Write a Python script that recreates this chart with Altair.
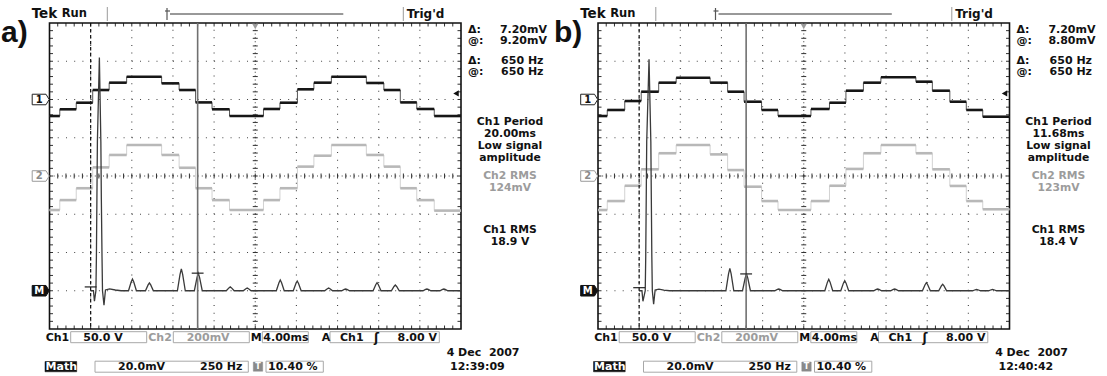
import altair as alt
import numpy as np
import pandas as pd

# ---------------------------------------------------------------
# Values
# ---------------------------------------------------------------
# staircase segment boundaries (ms, 4 ms/div, 0 = trigger point)
seg_t_a = [-20.0, -19.0, -17.4, -15.8, -14.2, -12.5, -9.1, -7.4, -5.8, -4.2, -2.5,
           0.8, 2.4, 4.1, 5.7, 7.4, 10.8, 12.5, 14.1, 15.7, 17.4, 20.0]
ch1_a = [-21.6, -12.8, -4.2, 12.4, 22.0, 29.8, 21.1, 12.4, -3.8, -12.8, -21.6,
         -12.4, -4.2, 13.3, 22.0, 29.8, 21.6, 12.4, -3.8, -12.4, -21.6]        # V
ch2_a = [-178, -126, -64, 45, 110, 162, 110, 43, -64, -126, -178,
         -126, -64, 49, 106, 162, 110, 49, -64, -126, -181]                     # mV

seg_t_b = [-20.0, -19.1, -17.4, -15.8, -14.1, -12.4, -9.1, -7.4, -5.8, -4.1, -2.5,
           0.7, 2.5, 4.1, 5.8, 7.5, 10.9, 12.5, 14.2, 15.8, 17.4, 20.0]
ch1_b = [-21.6, -13.7, -2.0, 10.2, 22.0, 28.5, 22.0, 10.2, -2.9, -13.7, -21.6,
         -12.4, -4.2, 11.5, 22.0, 29.0, 23.3, 11.5, -2.9, -13.7, -22.5]
ch2_b = [-178, -131, -51, 35, 119, 162, 113, 31, -56, -131, -178,
         -131, -51, 37, 119, 162, 119, 35, -52, -131, -174]

# Math trace (FFT), 250 Hz/div, 20 mV/div
fund_hz_a = [0, 17, 23, 32, 35, 38, 41, 53, 62, 65, 69, 72, 81, 90, 115, 150, 185]
fund_mv_a = [0, 0, -5.5, 0, 18, 48, 78, 122, 78, 48, 18, 0, -7.5, 0.4, 1.0, 0.4, 0]
harm_hz_a = [254, 357, 551, 654, 848, 951, 1152, 1255, 1446, 1549, 1740, 1851, 2043, 2146]
harm_mv_a = [6.1, 4.1, 11.4, 9.2, 2.0, 1.4, 5.6, 5.1, 1.4, 0.9, 4.2, 3.0, 0.9, 0.9]

fund_hz_b = [0, 17, 23, 37, 40, 43, 46, 60, 71, 74, 77, 80, 88, 97, 120, 150, 185]
fund_mv_b = [0, 0, -5.5, 0, 18, 48, 78, 121, 78, 48, 18, 0, -7.0, 0.4, 0.8, 0.3, 0]
harm_hz_b = [551, 652, 848, 1152, 1249, 1449, 1552, 1745, 1844, 2050, 2147]
harm_mv_b = [11.7, 8.8, 0.9, 6.0, 5.3, 0.9, 0.9, 4.2, 3.4, 0.7, 0.7]

cursor_hz = [0, 650]
cursor_lv_a = [2.0, 9.2]
cursor_lv_b = [1.6, 8.8]
trig_level_v = 8.0

read_a = ["7.20mV", "9.20mV", "650 Hz", "650 Hz", "20.00ms", "124mV", "18.9 V",
          "4 Dec\u00a0 2007", "12:39:09"]
read_b = ["7.20mV", "8.80mV", "650 Hz", "650 Hz", "11.68ms", "123mV", "18.4 V",
          "4 Dec\u00a0 2007", "12:40:42"]
status_vals = ["50.0 V", "200mV", "4.00ms", "8.00 V", "20.0mV", "250 Hz", "10.40 %"]

# ---------------------------------------------------------------
W, H = 1107, 376
TOP, BOT = 23.0, 329.0
FONT = "DejaVu Sans"
INK = "#111111"
GREY = "#9c9c9c"
TAG = "M-1,-0.62L0.62,-0.62L1,0L0.62,0.62L-1,0.62Z"

PANELS = [
    dict(L=49.5, R=461.0, lab="a)", lab_x=1, t=seg_t_a, c1=ch1_a, c2=ch2_a,
         fh=fund_hz_a, fm=fund_mv_a, hh=harm_hz_a, hm=harm_mv_a, clv=cursor_lv_a, rd=read_a),
    dict(L=598.0, R=1009.5, lab="b)", lab_x=554, t=seg_t_b, c1=ch1_b, c2=ch2_b,
         fh=fund_hz_b, fm=fund_mv_b, hh=harm_hz_b, hm=harm_mv_b, clv=cursor_lv_b, rd=read_b),
]


def sc(domain, rng):
    return alt.Scale(domain=domain, range=rng, nice=False, zero=False)


def step_frames(t, v):
    seg = pd.DataFrame({"t0": t[:-1], "t1": t[1:], "v": v})
    pts = pd.DataFrame({"t": t, "v": list(v) + [v[-1]]})
    return seg, pts


def fft_frame(fh, fm, hh, hm, end_hz=2250):
    rows = list(zip(fh, fm))
    for f, a in zip(hh, hm):
        rows += [(f - 24, 0.0), (f - 8, a * 0.75), (f, a), (f + 8, a * 0.75), (f + 24, 0.0)]
    rows.append((end_hz, 0.0))
    return pd.DataFrame(rows, columns=["f", "mv"]).sort_values("f")


layers = []
texts = []      # (x, y, text, align, size, color, weight, font)
boxes = []      # (x, x2, y, y2, fill, stroke)
lines = []      # (x, x2, y, y2, color, width)


def tx(x, y, s, align="left", size=11.5, color=INK, weight="bold", font=FONT):
    texts.append(dict(x=x, y=y, text=s, align=align, size=size, color=color,
                      weight=weight, font=font))


for p in PANELS:
    L, R = p["L"], p["R"]
    xt = sc([-20, 20], [L, R])
    xf = sc([-250, 2250], [L, R])
    xd = sc([0, 10], [L, R])
    yd = sc([0, 8], [BOT, TOP])
    y1 = sc([-300, 100], [BOT, TOP])     # Ch1 50 V/div, marker +2 div
    y2 = sc([-800, 800], [BOT, TOP])     # Ch2 200 mV/div
    ym = sc([-20, 140], [BOT, TOP])      # Math 20 mV/div, marker -3 div
    dxs = (R - L) / 50.0
    dys = (BOT - TOP) / 40.0

    # ---- graticule
    gv = pd.DataFrame({"x": [1, 2, 3, 4, 6, 7, 8, 9], "a": 0, "b": 8})
    layers.append(alt.Chart(gv).mark_rule(color="#444444", strokeWidth=1.1,
                                          strokeDash=[1, dys - 1]).encode(
        x=alt.X("x:Q", scale=xd, axis=None), y=alt.Y("a:Q", scale=yd, axis=None), y2="b:Q"))
    gh = pd.DataFrame({"y": [1, 2, 3, 5, 6, 7], "a": 0, "b": 10})
    layers.append(alt.Chart(gh).mark_rule(color="#444444", strokeWidth=1.1,
                                          strokeDash=[1, dxs - 1]).encode(
        y=alt.Y("y:Q", scale=yd, axis=None), x=alt.X("a:Q", scale=xd, axis=None), x2="b:Q"))
    cv = pd.DataFrame({"x": [5], "a": 0, "b": 8})
    layers.append(alt.Chart(cv).mark_rule(color="#444444", strokeWidth=1.1,
                                          strokeDash=[1, dys / 2 - 1]).encode(
        x=alt.X("x:Q", scale=xd, axis=None), y=alt.Y("a:Q", scale=yd, axis=None), y2="b:Q"))
    ch = pd.DataFrame({"y": [4], "a": 0, "b": 10})
    layers.append(alt.Chart(ch).mark_rule(color="#444444", strokeWidth=1.1,
                                          strokeDash=[1, dxs / 2 - 1]).encode(
        y=alt.Y("y:Q", scale=yd, axis=None), x=alt.X("a:Q", scale=xd, axis=None), x2="b:Q"))
    # minor ticks on frame and centre cross
    tl_x = 3.5 / (dxs * 5)
    tl_y = 3.5 / (dys * 5)
    cl_x = 2.5 / (dxs * 5)
    cl_y = 2.5 / (dys * 5)
    rows = []
    for xv in np.arange(1, 50) / 5.0:
        rows += [(xv, xv, 8, 8 - tl_y), (xv, xv, 0, tl_y), (xv, xv, 4 - cl_y, 4 + cl_y)]
    for yv in np.arange(1, 40) / 5.0:
        rows += [(0, tl_x, yv, yv), (10, 10 - tl_x, yv, yv), (5 - cl_x, 5 + cl_x, yv, yv)]
    tk = pd.DataFrame(rows, columns=["xa", "xb", "ya", "yb"])
    layers.append(alt.Chart(tk).mark_rule(color="#333333", strokeWidth=1).encode(
        x=alt.X("xa:Q", scale=xd, axis=None), x2="xb:Q",
        y=alt.Y("ya:Q", scale=yd, axis=None), y2="yb:Q"))
    fr = pd.DataFrame({"a": [0], "b": [10], "c": [0], "d": [8]})
    layers.append(alt.Chart(fr).mark_rect(fill="#ffffff", fillOpacity=0, stroke="#111111",
                                          strokeWidth=1.6).encode(
        x=alt.X("a:Q", scale=xd, axis=None), x2="b:Q",
        y=alt.Y("c:Q", scale=yd, axis=None), y2="d:Q"))

    # ---- Ch2 (grey) and Ch1 (black) staircases
    for vals, ysc, col_v, col_h in [(p["c2"], y2, "#d2d2d2", "#b8b8b8"),
                                    (p["c1"], y1, "#555555", "#161616")]:
        seg, pts = step_frames(p["t"], vals)
        layers.append(alt.Chart(pts).mark_line(interpolate="step-after", color=col_v,
                                               strokeWidth=1).encode(
            x=alt.X("t:Q", scale=xt, axis=None), y=alt.Y("v:Q", scale=ysc, axis=None)))
        layers.append(alt.Chart(seg).mark_rule(color=col_h, strokeWidth=2.6).encode(
            x=alt.X("t0:Q", scale=xt, axis=None), x2="t1:Q",
            y=alt.Y("v:Q", scale=ysc, axis=None)))

    # ---- Math (FFT)
    fft = fft_frame(p["fh"], p["fm"], p["hh"], p["hm"])
    layers.append(alt.Chart(fft).mark_line(color="#3a3a3a", strokeWidth=1.3).encode(
        x=alt.X("f:Q", scale=xf, axis=None), y=alt.Y("mv:Q", scale=ym, axis=None)))

    # ---- cursors
    cur = pd.DataFrame({"f": cursor_hz, "lv": p["clv"]})
    cur["f0"] = cur["f"] - 36
    cur["f1"] = cur["f"] + 36
    layers.append(alt.Chart(cur.iloc[[0]]).mark_rule(color="#111111", strokeWidth=1.2,
                                                     strokeDash=[3.5, 2.5]).encode(
        x=alt.X("f:Q", scale=xf, axis=None), y=alt.value(TOP), y2=alt.value(BOT)))
    layers.append(alt.Chart(cur.iloc[[1]]).mark_rule(color="#707070", strokeWidth=1.6).encode(
        x=alt.X("f:Q", scale=xf, axis=None), y=alt.value(TOP), y2=alt.value(BOT)))
    layers.append(alt.Chart(cur).mark_rule(color="#222222", strokeWidth=1.2).encode(
        x=alt.X("f0:Q", scale=xf, axis=None), x2="f1:Q", y=alt.Y("lv:Q", scale=ym, axis=None)))

    # ---- channel tags on the left edge
    zero = pd.DataFrame({"v": [0.0]})
    for ysc, fill, stroke, s, tcol in [(y1, "#ffffff", "#222222", "1", INK),
                                        (y2, "#ffffff", "#9a9a9a", "2", "#8a8a8a"),
                                        (ym, "#111111", "#111111", "M", "#ffffff")]:
        layers.append(alt.Chart(zero).mark_point(shape=TAG, size=289, filled=True, fill=fill,
                                                 stroke=stroke, strokeWidth=1, opacity=1).encode(
            x=alt.value(L - 8.8), y=alt.Y("v:Q", scale=ysc, axis=None)))
        layers.append(alt.Chart(zero).mark_text(text=s, font=FONT, fontSize=10, fontWeight="bold",
                                                color=tcol, align="center", baseline="middle").encode(
            x=alt.value(L - 10.3), y=alt.Y("v:Q", scale=ysc, axis=None)))

    # ---- trigger level arrow and trigger position marker
    tl = pd.DataFrame({"v": [trig_level_v], "t": [0.0]})
    layers.append(alt.Chart(tl).mark_point(shape="triangle-left", size=40, filled=True,
                                           color="#111111", opacity=1).encode(
        x=alt.value(R - 5), y=alt.Y("v:Q", scale=y1, axis=None)))
    layers.append(alt.Chart(tl).mark_point(shape="triangle-down", size=38, filled=True,
                                           color="#9a9a9a", opacity=1).encode(
        x=alt.X("t:Q", scale=xt, axis=None), y=alt.value(TOP + 3.5)))

    # ---- texts
    rd = p["rd"]
    tx(p["lab_x"], 33, p["lab"], size=30, font="Liberation Sans")
    tx(L - 17.8, 14, "Tek", size=13.5)
    tx(L + 12.2, 14, "Run")
    tx(L + 357.2, 14, "Trig'd", size=12)
    tx(R + 7, 29.5, "\u0394:", size=11); tx(R + 86, 29.5, rd[0], "right", size=11)
    tx(R + 7, 40.5, "@:", size=11); tx(R + 86, 40.5, rd[1], "right", size=11)
    tx(R + 7, 60.5, "\u0394:", size=11); tx(R + 82.5, 60.5, rd[2], "right", size=11)
    tx(R + 7, 71.5, "@:", size=11); tx(R + 82.5, 71.5, rd[3], "right", size=11)
    cx = R + 49
    fs = 10.8
    tx(cx, 121.5, "Ch1 Period", "center", size=fs); tx(cx, 133.5, rd[4], "center", size=fs)
    tx(cx, 145.5, "Low signal", "center", size=fs); tx(cx, 157.5, "amplitude", "center", size=fs)
    tx(cx, 176.0, "Ch2 RMS", "center", size=fs, color=GREY)
    tx(cx, 188.0, rd[5], "center", size=fs, color=GREY)
    tx(cx, 229.5, "Ch1 RMS", "center", size=fs); tx(cx, 241.5, rd[6], "center", size=fs)
    r1, r2 = 337.5, 366.5
    tx(L - 3.8, r1, "Ch1", size=11)
    tx(L + 33.8, r1, status_vals[0], size=11)
    tx(L + 98.8, r1, "Ch2", size=11, color=GREY)
    tx(L + 137.2, r1, status_vals[1], size=11, color=GREY)
    tx(L + 201.2, r1, "M", size=11)
    tx(L + 213.8, r1, status_vals[2], size=11)
    tx(L + 272.2, r1, "A", size=11)
    tx(L + 290.5, r1, "Ch1", size=11)
    tx(L + 327, r1, "\u0283", "center", size=12)
    tx(L + 387.5, r1, status_vals[3], "right", size=11)
    tx(L + 11.8, r2, "Math", "center", size=11, color="#ffffff")
    tx(L + 68.5, r2, status_vals[4], size=11)
    tx(L + 150.5, r2, status_vals[5], size=11)
    tx(L + 208.5, r2, "T", "center", size=8, color="#ffffff")
    tx(L + 218.5, r2, status_vals[6], size=11)
    tx(L + 470, 353.3, rd[7], "right", size=11)
    tx(L + 400.5, r2, rd[8], size=11)

    # ---- status boxes
    for a, b in [(21.2, 97.2), (123.8, 199.8), (212.8, 258.8), (280.5, 389.8)]:
        boxes.append((L + a, L + b, 331.7, 342.7, "none", "#a8a8a8"))
    for a, b in [(45.5, 198.8), (216.5, 273.8)]:
        boxes.append((L + a, L + b, 361.2, 372.2, "none", "#a8a8a8"))
    boxes.append((L - 4.5, L + 27.2, 361.5, 371.8, "#111111", "#111111"))
    boxes.append((L + 203.8, L + 213.2, 362.0, 371.2, "#8a8a8a", "#8a8a8a"))

    # ---- top bar lines
    lines.append((L + 57.8, L + 57.8, 7, 21, "#9a9a9a", 1))
    lines.append((L + 353.8, L + 353.8, 7, 21, "#9a9a9a", 1))
    lines.append((L + 120.5, L + 293.8, 14, 14, "#333333", 1))
    lines.append((L + 117.5, L + 117.5, 8, 20, "#555555", 1.2))
    lines.append((L + 115.5, L + 120.5, 11, 11, "#555555", 1.2))

# ---- chrome layers (pixel placed)
bx = pd.DataFrame(boxes, columns=["x", "x2", "y", "y2", "fill", "stroke"])
ob = bx[bx["fill"] == "none"]
fb = bx[bx["fill"] != "none"]
layers.append(alt.Chart(ob).mark_rect(fill="#ffffff", fillOpacity=0, stroke="#a8a8a8",
                                      strokeWidth=1).encode(
    x=alt.X("x:Q", scale=None, axis=None), x2="x2:Q",
    y=alt.Y("y:Q", scale=None, axis=None), y2="y2:Q"))
for col, g in fb.groupby("fill"):
    layers.append(alt.Chart(g).mark_rect(fill=col, stroke=col, strokeWidth=0.5).encode(
        x=alt.X("x:Q", scale=None, axis=None), x2="x2:Q",
        y=alt.Y("y:Q", scale=None, axis=None), y2="y2:Q"))

ln = pd.DataFrame(lines, columns=["x", "x2", "y", "y2", "color", "w"])
for (col, w), g in ln.groupby(["color", "w"]):
    layers.append(alt.Chart(g).mark_rule(color=col, strokeWidth=float(w)).encode(
        x=alt.X("x:Q", scale=None, axis=None), x2="x2:Q",
        y=alt.Y("y:Q", scale=None, axis=None), y2="y2:Q"))

td = pd.DataFrame(texts)
for (al, sz, col, wt, fnt), g in td.groupby(["align", "size", "color", "weight", "font"]):
    layers.append(alt.Chart(g).mark_text(align=al, baseline="middle", fontSize=float(sz),
                                         color=col, fontWeight=wt, font=fnt).encode(
        x=alt.X("x:Q", scale=None, axis=None), y=alt.Y("y:Q", scale=None, axis=None),
        text="text:N"))

chart = alt.layer(*layers).properties(
    width=W, height=H, padding=0, background="#ffffff",
    autosize=alt.AutoSizeParams(type="none"),
).resolve_scale(x="independent", y="independent").configure_view(strokeWidth=0)

chart.save("out.html", embed_options={"renderer": "svg", "actions": False})
